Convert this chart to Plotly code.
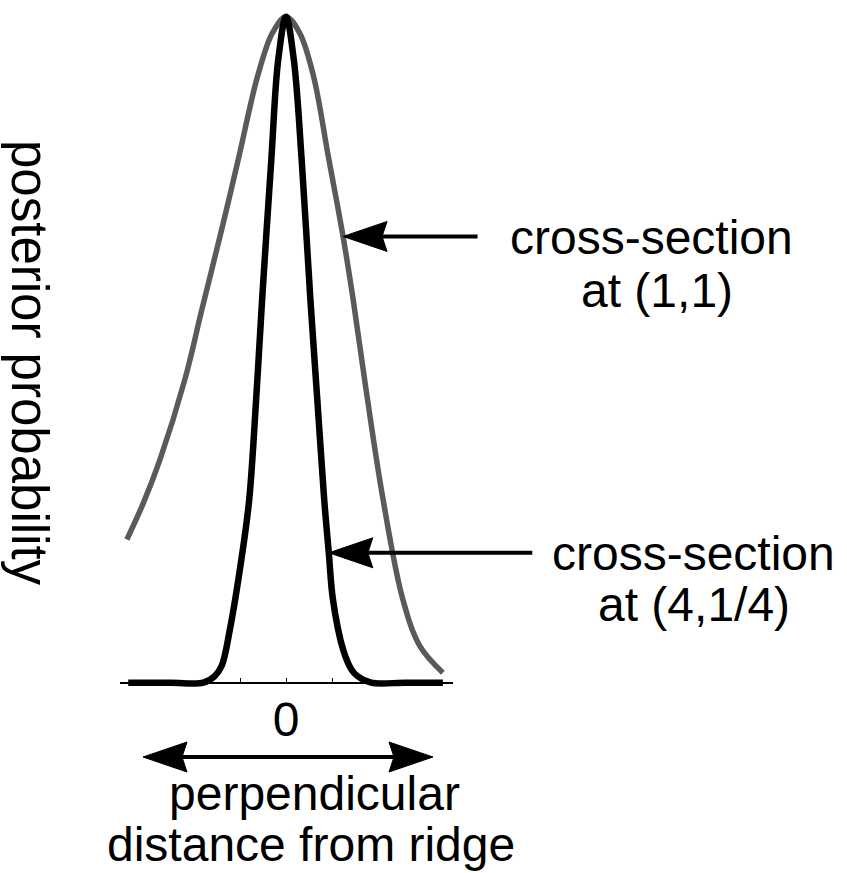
import plotly.graph_objects as go

# Cross-section of the posterior at (1,1): wide, slightly skewed profile
x_wide = [-3.46, -3.10, -2.74, -2.20, -1.83, -1.40, -1.04, -0.62, -0.30, 0.0,
          0.30, 0.60, 0.92, 1.24, 1.46, 1.74, 2.11, 2.54, 2.91, 3.41]
y_wide = [0.215, 0.27, 0.335, 0.455, 0.56, 0.68, 0.785, 0.91, 0.975, 1.0,
          0.975, 0.91, 0.79, 0.67, 0.575, 0.44, 0.275, 0.125, 0.055, 0.015]

# Cross-section of the posterior at (4,1/4): narrow profile
x_narrow = [-3.43, -2.50, -1.80, -1.55, -1.40, -1.22, -0.96, -0.80, -0.65, -0.52,
            -0.32, -0.17, 0.0, 0.17, 0.34, 0.53, 0.68, 0.83, 0.93,
            1.02, 1.24, 1.42, 1.55, 1.85, 2.60, 3.41]
y_narrow = [0.0, 0.0, 0.0, 0.01, 0.025, 0.08, 0.19, 0.275, 0.425, 0.575,
            0.785, 0.935, 1.0, 0.935, 0.785, 0.575, 0.425, 0.275, 0.195,
            0.125, 0.05, 0.02, 0.01, 0.0, 0.0, 0.0]

tick_vals = [-1, 0, 1]
tick_text = ["", "0", ""]

# Where each callout arrow touches its curve (index into the series)
wide_pointer = 13      # (1.24, 0.67)
narrow_pointer = 18    # (0.93, 0.195)

FONT = "Liberation Sans, Arial, sans-serif"
FS = 48
W, H = 847, 873
ML, MR, MT, MB = 120, 394, 4, 177
PW, PH = W - ML - MR, H - MT - MB
X_RANGE = [-3.609, 3.630]
Y_RANGE = [-0.02, 1.019]


def xp(px):
    return (px - ML) / PW


def yp(py):
    return (MT + PH - py) / PH


fig = go.Figure()
fig.add_trace(go.Scatter(x=x_wide, y=y_wide, mode="lines",
                         line=dict(color="#5a5a5a", width=5.5, shape="spline", smoothing=1.0),
                         hoverinfo="skip"))
fig.add_trace(go.Scatter(x=x_narrow, y=y_narrow, mode="lines",
                         line=dict(color="black", width=6.5, shape="spline", smoothing=1.0),
                         hoverinfo="skip"))

head_left = "M0,0 L44,15 L39,0 L44,-15 Z"
head_right = "M0,0 L-44,15 L-39,0 L-44,-15 Z"

shapes = []
annotations = []

# Callout arrows pointing at the two curves
for (cx, cy, tail) in [(x_wide[wide_pointer], y_wide[wide_pointer], 136),
                       (x_narrow[narrow_pointer], y_narrow[narrow_pointer], 205)]:
    shapes.append(dict(type="path", xref="x", yref="y", xsizemode="pixel", ysizemode="pixel",
                       xanchor=cx, yanchor=cy, path=head_left,
                       fillcolor="black", line=dict(color="black", width=1)))
    annotations.append(dict(x=cx, y=cy, xref="x", yref="y", text="", showarrow=True,
                            ax=tail, ay=0, arrowhead=0, arrowwidth=4, arrowcolor="black",
                            standoff=38))

# Double-headed arrow under the axis
ya = yp(757)
shapes.append(dict(type="line", xref="paper", yref="paper",
                   x0=xp(143 + 38), x1=xp(433 - 38), y0=ya, y1=ya,
                   line=dict(color="black", width=4)))
shapes.append(dict(type="path", xref="paper", yref="paper", xsizemode="pixel", ysizemode="pixel",
                   xanchor=xp(143), yanchor=ya, path=head_left,
                   fillcolor="black", line=dict(color="black", width=1)))
shapes.append(dict(type="path", xref="paper", yref="paper", xsizemode="pixel", ysizemode="pixel",
                   xanchor=xp(433), yanchor=ya, path=head_right,
                   fillcolor="black", line=dict(color="black", width=1)))

labels = [
    ("cross-section", 651, 237),
    ("at (1,1)", 657, 291),
    ("cross-section", 693, 553),
    ("at (4,1/4)", 694, 604),
    ("perpendicular", 314, 793),
    ("distance from ridge", 311, 844),
]
for txt, px, py in labels:
    annotations.append(dict(text=txt, x=xp(px), y=yp(py), xref="paper", yref="paper",
                            xanchor="center", yanchor="middle", showarrow=False,
                            font=dict(family=FONT, size=FS, color="black")))

annotations.append(dict(text="posterior probability", x=xp(30), y=yp(363),
                        xref="paper", yref="paper", xanchor="center", yanchor="middle",
                        textangle=90, showarrow=False,
                        font=dict(family=FONT, size=51, color="black")))

fig.update_layout(
    width=W, height=H,
    margin=dict(l=ML, r=MR, t=MT, b=MB),
    paper_bgcolor="white", plot_bgcolor="white",
    showlegend=False,
    shapes=shapes,
    annotations=annotations,
    xaxis=dict(range=X_RANGE, anchor="free",
               position=(0 - Y_RANGE[0]) / (Y_RANGE[1] - Y_RANGE[0]),
               showgrid=False, zeroline=False,
               showline=True, linecolor="black", linewidth=1.5,
               ticks="inside", ticklen=4, tickwidth=1, tickcolor="black",
               tickvals=tick_vals, ticktext=tick_text,
               tickfont=dict(family=FONT, size=FS, color="black"),
               ticklabelstandoff=-5),
    yaxis=dict(range=Y_RANGE, visible=False, showgrid=False, zeroline=False),
)

fig.write_html("out.html")
